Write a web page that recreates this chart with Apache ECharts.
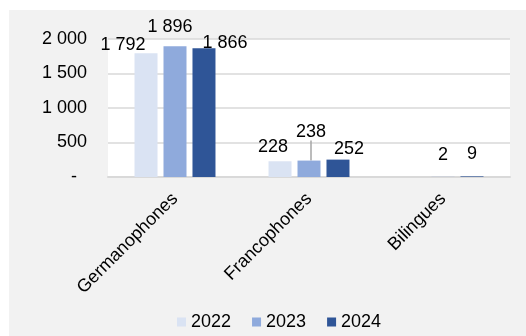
<!DOCTYPE html>
<html>
<head>
<meta charset="utf-8">
<script src="https://cdn.jsdelivr.net/npm/echarts@6/dist/echarts.min.js"></script>
<style>
  html, body { margin: 0; padding: 0; background: #fff; }
  #chart { position: absolute; left: 9px; top: 10px; width: 517px; height: 326px; background: #f2f2f2; }
</style>
</head>
<body>
<div id="chart"></div>
<script>
var categories = ['Germanophones', 'Francophones', 'Bilingues']
var years = ['2022', '2023', '2024']
var values2022 = [1792, 228, null]
var values2023 = [1896, 238, 2]
var values2024 = [1866, 252, 9]
var yTicks = [0, 500, 1000, 1500, 2000]

// label nudges (dx, dy) per series / category, like Excel moved them
var labelShift = [
  [[-23, 6], [-7, 0], [0, 0]],
  [[-5, -5], [2, -15], [0, -8]],
  [[21, 9], [11, 3], [0, -8]]
]
var colors = ['#dae3f3', '#8faadc', '#2f5597']

function fmt(v) {
  return String(v).replace(/\B(?=(\d{3})+(?!\d))/g, ' ')
}

var chart = echarts.init(document.getElementById('chart'))
var seriesData = [values2022, values2023, values2024]

chart.setOption({
  animation: false,
  textStyle: { fontFamily: 'Liberation Sans, Arial, sans-serif' },
  color: colors,
  legend: {
    left: 163,
    top: 298,
    icon: 'rect',
    itemWidth: 9,
    itemHeight: 9,
    itemGap: 21,
    textStyle: { fontSize: 18, color: '#000' },
    data: years
  },
  grid: {
    left: 99,
    right: 16,
    top: 29,
    bottom: 159,
    show: true,
    backgroundColor: '#fff',
    borderWidth: 0
  },
  xAxis: {
    type: 'category',
    data: categories,
    axisLine: { lineStyle: { color: '#d9d9d9', width: 2 } },
    axisTick: { show: false },
    axisLabel: { rotate: 45, fontSize: 18, color: '#000', margin: 19 }
  },
  yAxis: {
    type: 'value',
    min: yTicks[0],
    max: yTicks[yTicks.length - 1],
    interval: 500,
    splitLine: { lineStyle: { color: '#d9d9d9', width: 1.5 } },
    axisLabel: {
      fontSize: 18,
      color: '#000',
      margin: 21,
      formatter: function (v) { return v === 0 ? '{z|-}' : fmt(v) },
      rich: { z: { fontSize: 18, color: '#000', padding: [0, 10, 0, 0] } }
    }
  },
  series: years.map(function (y, s) {
    return {
      name: y,
      type: 'bar',
      barWidth: 23,
      barGap: '26%',
      data: seriesData[s].map(function (v, i) {
        var item = { value: v }
        if (s === 1 && i === 1) item.labelLine = { show: true, lineStyle: { color: '#a6a6a6', width: 1.5 } }
        return item
      }),
      label: {
        show: true,
        position: 'top',
        fontSize: 18,
        color: '#000',
        formatter: function (p) { return p.value == null ? '' : fmt(p.value) }
      },
      labelLine: { show: false },
      labelLayout: function (p) {
        var d = labelShift[p.seriesIndex][p.dataIndex]
        return { dx: d[0], dy: d[1] }
      }
    }
  })
})
</script>
</body>
</html>
